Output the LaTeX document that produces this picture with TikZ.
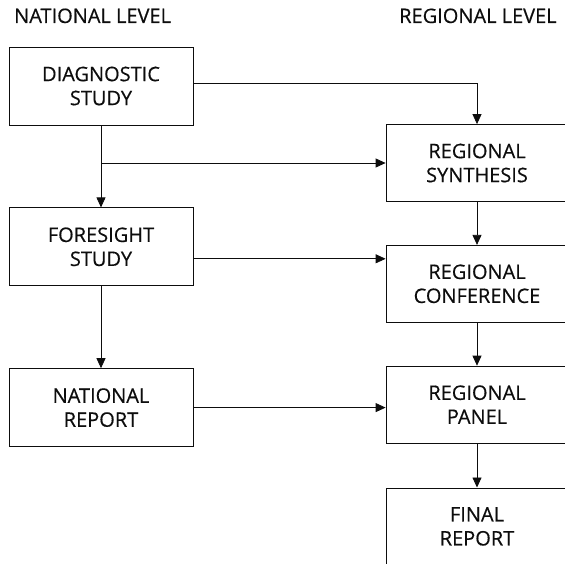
\documentclass[tikz,border=0pt]{standalone}
\usepackage{fontspec}
\setmainfont{Open Sans}[FakeBold=0.4]
\usepackage{tikz}
\usetikzlibrary{arrows.meta}
\usetikzlibrary{positioning}

\begin{document}
\begin{tikzpicture}[x=1pt,y=1pt,
	box/.style={draw=linecol,line width=0.8pt,minimum width=184pt,minimum height=78pt,align=center,font=\boxfont,text=linecol},
	rbox/.style={box,minimum width=182pt,minimum height=77pt},
	flow/.style={draw=linecol,line width=0.8pt,-{Triangle[length=10pt,width=9pt]}}]

	\definecolor{linecol}{rgb}{0.05,0.05,0.05}
	\newcommand{\boxfont}{\fontsize{20}{24}\selectfont}

	\useasboundingbox (0,0) rectangle (564,-564);

	% headings
	\node(natlevel) [anchor=base west,inner sep=0pt,font=\boxfont,text=linecol] at (14,-23){NATIONAL LEVEL};
	\node(reglevel) [anchor=base west,inner sep=0pt,font=\boxfont,text=linecol] at (399,-23){REGIONAL LEVEL};

	% national column
	\node(diag) [box] at (101,-86){DIAGNOSTIC\\STUDY};
	\node(fore) [box,below=82pt of diag]{FORESIGHT\\STUDY};
	\node(natrep) [box,below=82pt of fore]{NATIONAL\\REPORT};

	% regional column
	\node(synth) [rbox] at (477,-163){REGIONAL\\SYNTHESIS};
	\node(conf) [rbox,below=43pt of synth]{REGIONAL\\CONFERENCE};
	\node(panel) [rbox,below=43pt of conf]{REGIONAL\\PANEL};
	\node(final) [rbox,below=44pt of panel]{FINAL\\REPORT};

	\coordinate(split) at (diag.south |- synth.west);
	\coordinate(forout) at ([yshift=-12pt]fore.east);

	\draw [flow] ([yshift=3pt]diag.east) -| (synth.north);
	\draw [flow] (diag.south) -- (fore.north);
	\draw [flow] (split) -- (synth.west);
	\draw [flow] (forout) -- (forout -| conf.west);
	\draw [flow] (fore.south) -- (natrep.north);
	\draw [flow] (natrep.east) -- (natrep.east -| panel.west);

	\draw [flow] (synth.south) -- (conf.north);
	\draw [flow] (conf.south) -- (panel.north);
	\draw [flow] (panel.south) -- (final.north);

\end{tikzpicture}
\end{document}
